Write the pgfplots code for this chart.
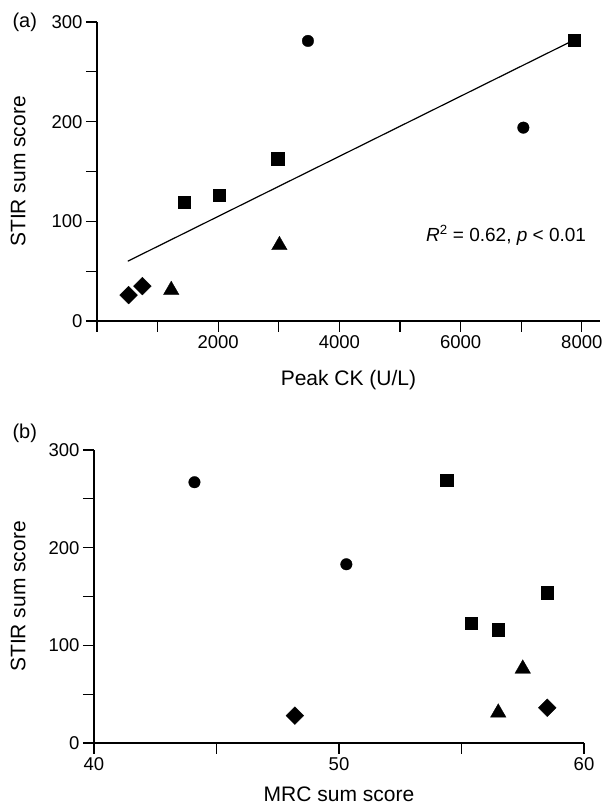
\documentclass[border=0pt]{standalone}
\usepackage{fontspec}
\setmainfont{Liberation Sans}
\usepackage{pgfplots}
\pgfplotsset{compat=1.18}

\pgfplotsset{
  panel/.style={
    scale only axis,
    axis lines=left,
    axis line style={-, line width=1.2bp},
    tick align=outside,
    tick pos=left,
    major tick length=11bp,
    minor tick length=11bp,
    tick style={line width=1.2bp, black},
    ymin=0, ymax=300,
    ytick={0,100,200,300},
    minor ytick={50,150,250},
    ticklabel style={font=\fontsize{18.5bp}{21bp}\selectfont},
    label style={font=\fontsize{21bp}{24bp}\selectfont},
    /pgf/number format/assume math mode=true,
    /pgf/number format/1000 sep={},
    scaled ticks=false,
    clip=false,
  },
  sq/.style={only marks, mark=square*, mark size=6.2bp, mark options={line width=0.3bp}},
  ci/.style={only marks, mark=*, mark size=5.8bp, mark options={line width=0.3bp}},
  tr/.style={only marks, mark=triangle*, mark size=9bp, mark options={line width=0.3bp}},
  di/.style={only marks, mark=square*, mark size=6.3bp, mark options={rotate=45, line width=0.3bp}},
}

\begin{document}
\begin{tikzpicture}
\path[use as bounding box] (0,0) rectangle (614bp,812bp);

% (a) STIR vs peak CK
\begin{axis}[panel,
    at={(97bp,491bp)}, anchor=south west,
    width=503bp, height=299bp,
    xmin=0, xmax=8300,
    xtick={2000,4000,6000,8000},
    minor xtick={0,1000,3000,5000,7000},
    xlabel={Peak CK (U/L)},
    ylabel={STIR sum score},
    xlabel style={at={(axis description cs:0.5,-0.197)}, anchor=center},
    ylabel style={at={(axis description cs:-0.157,0.5)}, anchor=center},
  ]
  \addplot[black, line width=1.2bp] coordinates {(508,60) (7841,281)};
  \addplot[sq] coordinates {(7873,282) (2984,163) (2019,126) (1435,119)};
  \addplot[ci] coordinates {(3481,281) (7035,194)};
  \addplot[tr] coordinates {(3010,76) (1225,31)};
  \addplot[di] coordinates {(749,35) (521,26)};
  \node[anchor=west, font=\fontsize{19bp}{21bp}\selectfont] at (axis cs:5372,86)
    {\textit{R}\textsuperscript{2} = 0.62, \textit{p} < 0.01};
\end{axis}

% (b) STIR vs MRC
\begin{axis}[panel,
    at={(94bp,69bp)}, anchor=south west,
    width=490bp, height=293bp,
    xmin=40, xmax=60,
    xtick={40,50,60},
    minor xtick={45,55},
    xlabel={MRC sum score},
    ylabel={STIR sum score},
    xlabel style={at={(axis description cs:0.5,-0.174)}, anchor=center},
    ylabel style={at={(axis description cs:-0.155,0.5)}, anchor=center},
  ]
  \addplot[sq] coordinates {(54.4,269) (58.5,154) (55.4,123) (56.5,116)};
  \addplot[ci] coordinates {(44.1,267) (50.3,183)};
  \addplot[tr] coordinates {(57.5,76) (56.5,31)};
  \addplot[di] coordinates {(58.5,36) (48.2,28)};
\end{axis}

\node[anchor=west, font=\fontsize{20bp}{22bp}\selectfont] at (9bp,790bp) {(a)};
\node[anchor=west, font=\fontsize{20bp}{22bp}\selectfont] at (9bp,379bp) {(b)};
\end{tikzpicture}
\end{document}
